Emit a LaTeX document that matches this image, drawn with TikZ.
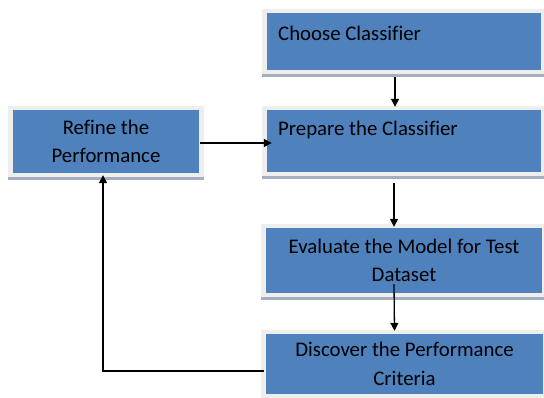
\documentclass[tikz,border=0pt]{standalone}
\usepackage{fontspec}
\setmainfont{Carlito}[Ligatures=NoCommon]
\usetikzlibrary{arrows.meta,backgrounds}
\definecolor{boxblue}{RGB}{79,129,189}
\definecolor{framegray}{RGB}{238,238,238}
\definecolor{shadegray}{RGB}{165,174,190}
\tikzset{
  box/.style={fill=boxblue, inner sep=0pt, align=center,
    font=\fontsize{20.8}{28.5}\selectfont},
  txt/.style={anchor=west, inner sep=0pt, font=\fontsize{20.8}{28.5}\selectfont},
  arr/.style={-{Triangle[length=8pt,width=8pt]}, line width=1.3pt}
}
\begin{document}
\begin{tikzpicture}[x=1pt,y=-1pt]
  \useasboundingbox (0,0) rectangle (544,397);
  % boxes
  \node[box, minimum width=274, minimum height=57] (choose) at (404,41.5) {};
  \node[box, minimum width=274, minimum height=62] (prepare) at (404,141) {};
  \node[box, minimum width=276, minimum height=65] (evaluate) at (404,260.5)
    {Evaluate the Model for Test\\Dataset};
  \node[box, minimum width=277, minimum height=60] (discover) at (404.5,364)
    {Discover the Performance\\Criteria};
  \node[box, minimum width=186, minimum height=63] (refine) at (106,141.5)
    {Refine the\\Performance};
  \node[txt] (chooseText) at (278,33) {Choose Classifier};
  \node[txt] (prepareText) at (278,130) {Prepare the Classifier};
  % frames and shadows
  \begin{scope}[on background layer]
    \foreach \b in {choose,prepare,evaluate,discover,refine}{
      \fill[framegray] ([shift={(-5,-4)}]\b.north west) rectangle ([shift={(5,4)}]\b.south east);
      \fill[shadegray] ([shift={(-5,4)}]\b.south west) rectangle ([shift={(5,7)}]\b.south east);
    }
  \end{scope}
  % arrows
  \draw[arr] ([shift={(-9,7)}]choose.south) -- ([shift={(-9,-3)}]prepare.north);
  \draw[arr] ([shift={(-10,11)}]prepare.south) -- ([shift={(-10,-1)}]evaluate.north);
  \draw[arr] ([shift={(-10,-9)}]evaluate.south) -- ([shift={(-10,-3)}]discover.north);
  \draw[arr] ([shift={(1,1.5)}]refine.east) -- ([shift={(5,2)}]prepare.west);
  \draw[arr] ([shift={(-2,7)}]discover.west) -| ([shift={(-3,2)}]refine.south);
\end{tikzpicture}
\end{document}
